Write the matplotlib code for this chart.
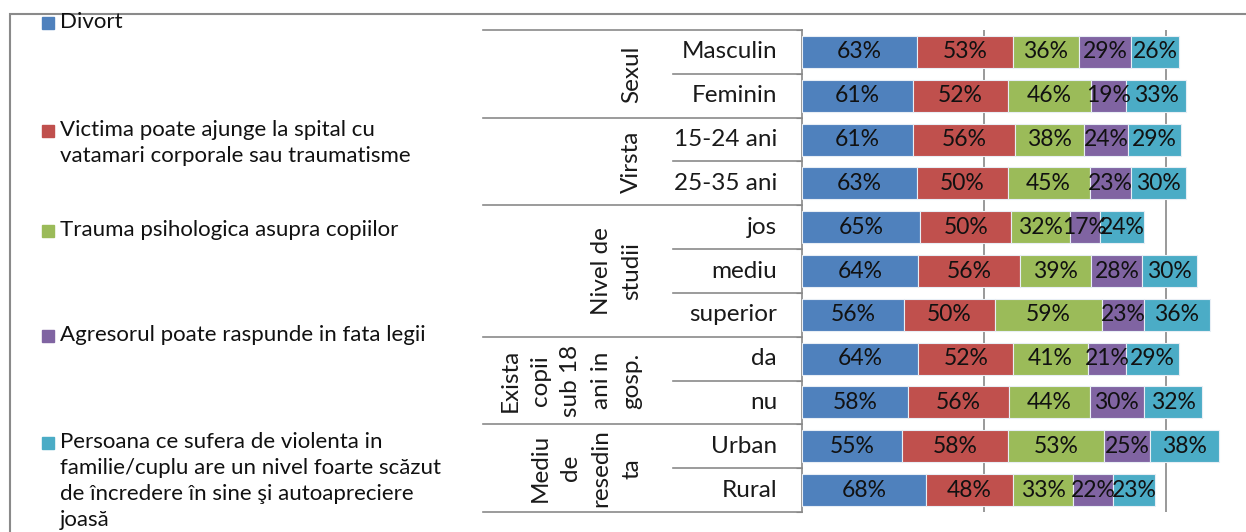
import numpy as np
import matplotlib
matplotlib.use("Agg")
import matplotlib.pyplot as plt
from matplotlib.transforms import blended_transform_factory
from matplotlib.patches import Rectangle
from matplotlib.lines import Line2D

plt.rcParams['font.family'] = ['Lato', 'DejaVu Sans']

rows = ["Masculin", "Feminin", "15-24 ani", "25-35 ani", "jos", "mediu",
        "superior", "da", "nu", "Urban", "Rural"]
groups = ["Sexul", "Virsta", "Nivel de\nstudii", "Exista\ncopii\nsub 18\nani in\ngosp.",
          "Mediu\nde\nresedin\nta"]
group_sizes = [2, 2, 3, 2, 2]

series = ["Divort",
          "Victima poate ajunge la spital cu\nvatamari corporale sau traumatisme",
          "Trauma psihologica asupra copiilor",
          "Agresorul poate raspunde in fata legii",
          "Persoana ce sufera de violenta in\nfamilie/cuplu are un nivel foarte scăzut\nde încredere în sine şi autoapreciere\njoasă"]

divort = [63, 61, 61, 63, 65, 64, 56, 64, 58, 55, 68]
spital = [53, 52, 56, 50, 50, 56, 50, 52, 56, 58, 48]
trauma = [36, 46, 38, 45, 32, 39, 59, 41, 44, 53, 33]
agresor = [29, 19, 24, 23, 17, 28, 23, 21, 30, 25, 22]
persoana = [26, 33, 29, 30, 24, 30, 36, 29, 32, 38, 23]

colors = ["#4F81BD", "#C0504D", "#9BBB59", "#8064A2", "#4BACC6"]

W, H = 1246, 532
fig = plt.figure(figsize=(W / 100, H / 100), dpi=100)

# outer chart border (runs off the right / bottom of the image)
fig.add_artist(Rectangle((10 / W, -0.2), 1.2, 1 - 14 / H + 0.2, transform=fig.transFigure,
                         fill=False, edgecolor="#8a8a8a", linewidth=1.5))

ax_left, ax_top, ax_bot = 802 / W, 1 - 30 / H, 1 - 512 / H
ax = fig.add_axes([ax_left, ax_bot, 1 - ax_left, ax_top - ax_bot])
ax.set_xlim(0, (W - 802) / 1.82)
ax.set_ylim(len(rows) - 0.5, -0.5)

y = np.arange(len(rows))
left = np.zeros(len(rows))
for vals, c in zip([divort, spital, trauma, agresor, persoana], colors):
    vals = np.array(vals)
    ax.barh(y, vals, left=left, height=0.73, color=c, edgecolor="#e8eef5", linewidth=0.8, zorder=3)
    for yi, l, v in zip(y, left, vals):
        ax.text(l + v / 2, yi, f"{v}%", ha="center", va="center", fontsize=16.5,
                color="#111111", zorder=4)
    left += vals

ax.set_xticks([100, 200])
ax.xaxis.grid(True, color="#888888", linewidth=1.2, zorder=0)
ax.tick_params(axis="x", length=0, labelbottom=False)
ax.set_yticks(np.arange(len(rows) + 1) - 0.5)
ax.set_yticklabels([])
ax.tick_params(axis="y", length=4, color="#888888", direction="out")
for s in ["top", "right", "bottom"]:
    ax.spines[s].set_visible(False)
ax.spines["left"].set_color("#888888")
ax.spines["left"].set_linewidth(1.2)

# category table
tr = blended_transform_factory(fig.transFigure, ax.transData)
for i, r in enumerate(rows):
    fig.text(777 / W, 0, r, transform=tr, ha="right", va="center", fontsize=17.5,
             color="#1a1a1a").set_y(i)

bounds = np.cumsum([0] + group_sizes)
for b in bounds:
    fig.add_artist(Line2D([483 / W, ax_left], [b - 0.5, b - 0.5], transform=tr,
                          color="#8a8a8a", linewidth=1.2))
for g0, g1, name in zip(bounds[:-1], bounds[1:], groups):
    for b in range(g0 + 1, g1):
        fig.add_artist(Line2D([673 / W, ax_left], [b - 0.5, b - 0.5], transform=tr,
                              color="#8a8a8a", linewidth=1.2))
    fig.text(642 / W, (g0 + g1 - 1) / 2, name, transform=tr, rotation=90,
             ha="right", va="center", multialignment="center", fontsize=17.5,
             color="#1a1a1a", linespacing=1.55)

# legend
leg_tops = [12, 120, 220, 325, 432]
for top, name, c in zip(leg_tops, series, colors):
    fig.add_artist(Rectangle((42 / W, 1 - (top + 17) / H), 12 / W, 12 / H,
                             transform=fig.transFigure, color=c))
    fig.text(60 / W, 1 - top / H, name, ha="left", va="top", fontsize=16,
             color="#111111", linespacing=1.38)

fig.savefig("out.png", dpi=100)
